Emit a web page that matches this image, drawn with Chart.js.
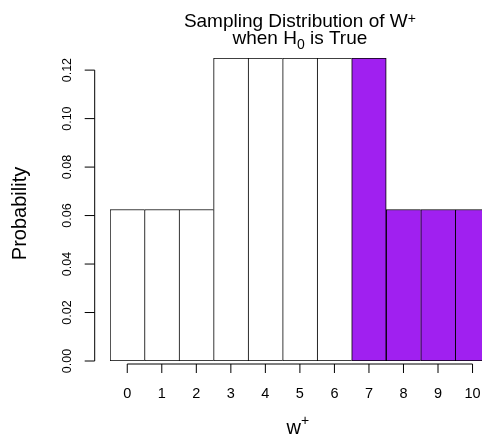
<!DOCTYPE html>
<html>
<head>
<meta charset="utf-8">
<script src="https://cdn.jsdelivr.net/npm/chart.js@4"></script>
<style>
    html, body { margin: 0; padding: 0; background: #fff; overflow: hidden; }
    #wrap { width: 482px; height: 439px; overflow: hidden; }
</style>
</head>
<body>
<div id="wrap">
    <canvas id="grafico" width="500" height="439"></canvas>
</div>
<script>
// Valores posibles de W+ (categorías del eje x)
const valoresW = ['0', '1', '2', '3', '4', '5', '6', '7', '8', '9', '10'];

// Probabilidad de cada valor bajo H0
const probabilidades = [0.0625, 0.0625, 0.0625, 0.125, 0.125, 0.125, 0.125, 0.125, 0.0625, 0.0625, 0.0625];

// 1 = barra dentro de la región de rechazo (sombreada)
const regionRechazo = [0, 0, 0, 0, 0, 0, 0, 1, 1, 1, 1];

// Marcas del eje y
const ticksY = [0.00, 0.02, 0.04, 0.06, 0.08, 0.10, 0.12];

const FUENTE = '"Liberation Sans", Arial, Helvetica, sans-serif';

// Dibuja ejes, etiquetas y título al estilo de R
const ejesR = {
    id: 'ejesR',
    afterDraw(chart) {
        const { ctx, chartArea, scales } = chart;
        const x = scales.x;
        const y = scales.y;
        ctx.save();
        ctx.strokeStyle = '#000';
        ctx.fillStyle = '#000';
        ctx.lineWidth = 1;

        // Eje y
        const ejeX = chartArea.left - 15.3;
        const y0 = y.getPixelForValue(ticksY[0]);
        const y1 = y.getPixelForValue(ticksY[ticksY.length - 1]);
        ctx.beginPath();
        ctx.moveTo(ejeX, y0);
        ctx.lineTo(ejeX, y1);
        ticksY.forEach(v => {
            const py = y.getPixelForValue(v);
            ctx.moveTo(ejeX, py);
            ctx.lineTo(ejeX - 10, py);
        });
        ctx.stroke();

        ctx.font = '12.5px ' + FUENTE;
        ctx.textAlign = 'center';
        ctx.textBaseline = 'alphabetic';
        ticksY.forEach(v => {
            const py = y.getPixelForValue(v);
            ctx.save();
            ctx.translate(ejeX - 24, py);
            ctx.rotate(-Math.PI / 2);
            ctx.fillText(v.toFixed(2), 0, 0);
            ctx.restore();
        });

        // Eje x
        const ejeY = chartArea.bottom + 3;
        const xa = x.getPixelForValue(0);
        const xb = x.getPixelForValue(valoresW.length - 1);
        ctx.beginPath();
        ctx.moveTo(xa, ejeY);
        ctx.lineTo(xb, ejeY);
        valoresW.forEach((_, i) => {
            const px = x.getPixelForValue(i);
            ctx.moveTo(px, ejeY);
            ctx.lineTo(px, ejeY + 9);
        });
        ctx.stroke();

        ctx.font = '14.5px ' + FUENTE;
        valoresW.forEach((lab, i) => {
            ctx.fillText(lab, x.getPixelForValue(i), chartArea.bottom + 37);
        });

        const centro = (chartArea.left + chartArea.right) / 2;

        // Etiqueta eje y
        ctx.save();
        ctx.font = '20px ' + FUENTE;
        ctx.translate(26, (chartArea.top + chartArea.bottom) / 2 + 4);
        ctx.rotate(-Math.PI / 2);
        ctx.fillText('Probability', 0, 0);
        ctx.restore();

        // Texto con super/subíndice
        function textoCompuesto(partes, cx, base) {
            let total = 0;
            partes.forEach(p => {
                ctx.font = p.size + 'px ' + FUENTE;
                p.w = ctx.measureText(p.t).width;
                total += p.w;
            });
            let px = cx - total / 2;
            ctx.textAlign = 'left';
            partes.forEach(p => {
                ctx.font = p.size + 'px ' + FUENTE;
                ctx.fillText(p.t, px, base + (p.dy || 0));
                px += p.w;
            });
            ctx.textAlign = 'center';
        }

        // Etiqueta eje x
        textoCompuesto([
            { t: 'w', size: 20 },
            { t: '+', size: 14, dy: -9.5 }
        ], centro - 2, 434);

        // Título
        textoCompuesto([
            { t: 'Sampling Distribution of W', size: 19 },
            { t: '+', size: 14, dy: -4.5 }
        ], centro, 27);
        textoCompuesto([
            { t: 'when H', size: 19 },
            { t: '0', size: 14, dy: 5 },
            { t: ' is True', size: 19 }
        ], centro, 44);

        ctx.restore();
    }
};

document.addEventListener('DOMContentLoaded', () => {
    const ctx = document.getElementById('grafico');

    new Chart(ctx, {
        type: 'bar',
        data: {
            labels: valoresW,
            datasets: [{
                label: 'Probability',
                data: probabilidades,
                backgroundColor: regionRechazo.map(r => r ? '#A020F0' : '#FFFFFF'),
                borderColor: '#000',
                borderSkipped: false,
                // bordes compartidos de 1px entre barras vecinas
                borderWidth: (c) => {
                    const i = c.dataIndex;
                    const sig = probabilidades[i + 1];
                    const derecha = (sig === undefined || sig < probabilidades[i]) ? 1 : 0;
                    return { top: 1, left: 1, bottom: 1, right: derecha };
                },
                barPercentage: 1,
                categoryPercentage: 1
            }]
        },
        options: {
            responsive: false,
            animation: false,
            events: [],
            layout: {
                padding: { left: 110, right: 10.2, top: 58, bottom: 78 }
            },
            plugins: {
                legend: { display: false },
                tooltip: { enabled: false },
                title: { display: false }
            },
            scales: {
                x: { display: false },
                y: { display: false, min: 0, max: 0.125 }
            }
        },
        plugins: [ejesR]
    });
});
</script>
</body>
</html>
